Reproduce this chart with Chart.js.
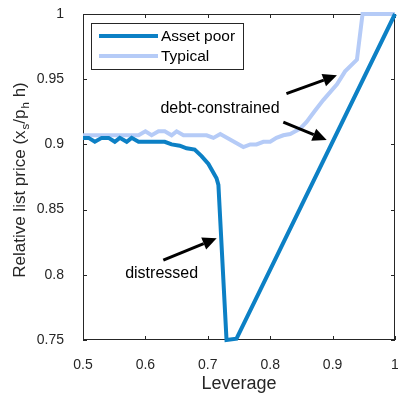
<!DOCTYPE html>
<html>
<head>
<meta charset="utf-8">
<script src="https://cdn.jsdelivr.net/npm/chart.js@4.4.1/dist/chart.umd.min.js"></script>
<style>
  html, body { margin: 0; padding: 0; background: #fff; }
</style>
</head>
<body>
<canvas id="chart" width="398" height="393"></canvas>
<script>
// data
const assetPoorX = [0.5, 0.509, 0.519, 0.53, 0.541, 0.551, 0.559, 0.57, 0.578, 0.589, 0.631, 0.642, 0.655, 0.666, 0.679, 0.69, 0.701, 0.714, 0.717, 0.73, 0.746, 1.0];
const assetPoorY = [0.905, 0.905, 0.902, 0.905, 0.905, 0.902, 0.905, 0.902, 0.905, 0.902, 0.902, 0.900, 0.899, 0.897, 0.896, 0.891, 0.885, 0.874, 0.869, 0.75, 0.751, 1.0];

const typicalX = [0.5, 0.589, 0.6, 0.61, 0.621, 0.631, 0.642, 0.65, 0.661, 0.698, 0.709, 0.72, 0.757, 0.768, 0.778, 0.789, 0.8, 0.81, 0.821, 0.832, 0.848, 0.858, 0.872, 0.885, 0.907, 0.92, 0.939, 0.948, 1.0];
const typicalY = [0.907, 0.907, 0.910, 0.907, 0.910, 0.910, 0.907, 0.910, 0.907, 0.907, 0.905, 0.908, 0.898, 0.900, 0.900, 0.902, 0.902, 0.905, 0.907, 0.908, 0.912, 0.917, 0.926, 0.934, 0.946, 0.956, 0.965, 1.0, 1.0];

const xTicks = [0.5, 0.6, 0.7, 0.8, 0.9, 1];
const yTicks = [0.75, 0.8, 0.85, 0.9, 0.95, 1];

// annotation arrows [x0, y0, x1, y1] in data units, head at (x1, y1)
const arrows = [
  [0.826, 0.939, 0.907, 0.953],
  [0.821, 0.917, 0.8905, 0.9034],
  [0.6287, 0.8113, 0.7142, 0.828]
];
const notes = [
  { text: 'debt-constrained', x: 0.7196, y: 0.9277 },
  { text: 'distressed', x: 0.626, y: 0.801 }
];

const FONT = '"Liberation Sans", Arial, Helvetica, sans-serif';
const AXIS = '#262626';

const toPoints = (xs, ys) => xs.map((x, i) => ({ x: x, y: ys[i] }));

const matlabAxes = {
  id: 'matlabAxes',
  beforeDatasetsDraw(chart) {
    const { ctx, chartArea: a, scales } = chart;
    ctx.save();
    ctx.strokeStyle = AXIS;
    ctx.lineWidth = 1;
    ctx.strokeRect(a.left + 0.5, a.top + 0.5, a.right - a.left - 1, a.bottom - a.top - 1);
    ctx.beginPath();
    xTicks.forEach(v => {
      const px = Math.round(scales.x.getPixelForValue(v)) + 0.5;
      ctx.moveTo(px, a.bottom); ctx.lineTo(px, a.bottom - 4);
      ctx.moveTo(px, a.top); ctx.lineTo(px, a.top + 4);
    });
    yTicks.forEach(v => {
      const py = Math.round(scales.y.getPixelForValue(v)) + 0.5;
      ctx.moveTo(a.left, py); ctx.lineTo(a.left + 4, py);
      ctx.moveTo(a.right, py); ctx.lineTo(a.right - 4, py);
    });
    ctx.stroke();
    ctx.restore();
  },
  afterDraw(chart) {
    const { ctx, chartArea: a, scales } = chart;
    ctx.save();

    // arrows
    ctx.strokeStyle = '#000';
    ctx.fillStyle = '#000';
    ctx.lineWidth = 3;
    arrows.forEach(([x0, y0, x1, y1]) => {
      const ax = scales.x.getPixelForValue(x0), ay = scales.y.getPixelForValue(y0);
      const bx = scales.x.getPixelForValue(x1), by = scales.y.getPixelForValue(y1);
      const ang = Math.atan2(by - ay, bx - ax);
      const hl = 14, hw = 6.5;
      const cx = bx - hl * Math.cos(ang), cy = by - hl * Math.sin(ang);
      ctx.beginPath();
      ctx.moveTo(ax, ay); ctx.lineTo(cx, cy);
      ctx.stroke();
      ctx.beginPath();
      ctx.moveTo(bx, by);
      ctx.lineTo(cx + hw * Math.sin(ang), cy - hw * Math.cos(ang));
      ctx.lineTo(cx - hw * Math.sin(ang), cy + hw * Math.cos(ang));
      ctx.closePath();
      ctx.fill();
    });

    // text notes
    ctx.font = '16px ' + FONT;
    ctx.textAlign = 'center';
    ctx.textBaseline = 'middle';
    notes.forEach(n => {
      ctx.fillText(n.text, scales.x.getPixelForValue(n.x), scales.y.getPixelForValue(n.y));
    });

    // legend
    const lx = a.left + 8, ly = a.top + 9, lw = 152, lh = 46;
    ctx.fillStyle = '#fff';
    ctx.fillRect(lx, ly, lw, lh);
    ctx.strokeStyle = AXIS;
    ctx.lineWidth = 1;
    ctx.strokeRect(lx + 0.5, ly + 0.5, lw, lh);
    ctx.font = '15.5px ' + FONT;
    ctx.textAlign = 'left';
    ctx.fillStyle = '#000';
    chart.data.datasets.forEach((ds, i) => {
      const ry = ly + 13 + i * 20;
      ctx.strokeStyle = ds.borderColor;
      ctx.lineWidth = 4;
      ctx.beginPath();
      ctx.moveTo(lx + 8, ry); ctx.lineTo(lx + 67, ry);
      ctx.stroke();
      ctx.fillStyle = '#000';
      ctx.fillText(ds.label, lx + 70, ry + 1);
    });

    // axis titles
    ctx.fillStyle = AXIS;
    ctx.font = '18px ' + FONT;
    ctx.textAlign = 'center';
    ctx.textBaseline = 'alphabetic';
    ctx.fillText('Leverage', (a.left + a.right) / 2, 389);

    const parts = [['Relative list price (x', false], ['s', true], ['/p', false], ['h', true], [' h)', false]];
    const big = '17px ' + FONT, small = '11.5px ' + FONT;
    let total = 0;
    const widths = parts.map(([t, sub]) => {
      ctx.font = sub ? small : big;
      const w = ctx.measureText(t).width + (sub ? 1 : 0);
      total += w;
      return w;
    });
    ctx.translate(25, 180);
    ctx.rotate(-Math.PI / 2);
    ctx.textAlign = 'left';
    let x = -total / 2;
    parts.forEach(([t, sub], i) => {
      ctx.font = sub ? small : big;
      ctx.fillText(t, x + (sub ? 1 : 0), sub ? 4 : 0);
      x += widths[i];
    });
    ctx.restore();
  }
};

new Chart(document.getElementById('chart'), {
  type: 'line',
  data: {
    datasets: [{
      label: 'Asset poor',
      data: toPoints(assetPoorX, assetPoorY),
      borderColor: '#0c80c5',
      borderWidth: 4,
      pointRadius: 0,
      tension: 0,
      clip: 4
    }, {
      label: 'Typical',
      data: toPoints(typicalX, typicalY),
      borderColor: '#b5cbf7',
      borderWidth: 4,
      pointRadius: 0,
      tension: 0,
      clip: 4
    }]
  },
  options: {
    responsive: false,
    animation: false,
    events: [],
    layout: { padding: { left: 0, right: 3, top: 14, bottom: 0 } },
    plugins: {
      legend: { display: false },
      tooltip: { enabled: false }
    },
    scales: {
      x: {
        type: 'linear',
        min: 0.5,
        max: 1,
        grid: { display: false },
        border: { display: false },
        afterBuildTicks: s => { s.ticks = xTicks.map(v => ({ value: v })); },
        afterFit: s => { s.height = 53; s.paddingLeft = 0; s.paddingRight = 0; },
        ticks: {
          color: AXIS,
          font: { family: FONT, size: 14 },
          padding: 9,
          maxRotation: 0,
          callback: v => String(v)
        }
      },
      y: {
        type: 'linear',
        min: 0.75,
        max: 1,
        grid: { display: false },
        border: { display: false },
        afterBuildTicks: s => { s.ticks = yTicks.map(v => ({ value: v })); },
        afterFit: s => { s.width = 83; s.paddingTop = 0; s.paddingBottom = 0; },
        ticks: {
          color: AXIS,
          font: { family: FONT, size: 14 },
          padding: 11,
          callback: v => String(v)
        }
      }
    }
  },
  plugins: [matlabAxes]
});
</script>
</body>
</html>
